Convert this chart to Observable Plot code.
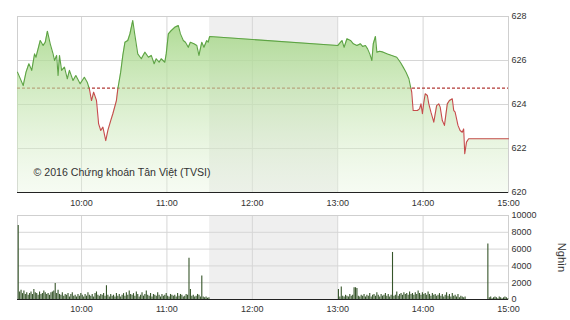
<!DOCTYPE html>
<html><head><meta charset="utf-8">
<script src="https://cdn.jsdelivr.net/npm/d3@7"></script>
<script src="https://cdn.jsdelivr.net/npm/@observablehq/plot@0.6"></script>
<style>body{margin:0;background:#fff;} #c{width:570px;height:320px;overflow:hidden;} #c svg{display:block;}</style>
</head><body><div id="c"></div><script>
// ---- data ----
const priceTimes = ["9:15","9:19","9:21","9:23","9:25","9:27","9:28","9:31","9:33","9:34:30","9:36","9:38","9:40","9:41","9:42:30","9:43:30","9:44:30","9:46","9:48","9:50","9:51:30","9:54","9:56","9:59","10:02","10:04","10:05:30","10:07","10:08:30","10:10:30","10:12","10:13:30","10:15","10:17","10:18:30","10:20:30","10:22","10:24:30","10:25:30","10:27:30","10:29","10:30:30","10:32:30","10:34","10:36","10:37:30","10:39:30","10:42","10:44:30","10:47","10:49","10:51","10:52:30","10:54:30","10:56","10:58:30","10:59:30","11:01","11:03","11:05:30","11:08","11:09:30","11:11:30","11:13","11:15","11:16:30","11:19","11:21","11:22:30","11:24:30","11:26","11:28","11:29","11:30","13:00","13:03","13:04:30","13:06:30","13:09","13:11","13:13:30","13:16","13:17:30","13:19:30","13:21","13:22:30","13:24","13:25","13:26:30","13:27:30","13:29:30","13:32","13:35","13:38","13:41:30","13:44","13:46","13:48","13:50","13:51","13:52","13:53","13:56","13:57:30","13:58:30","13:59:30","14:00:30","14:01:30","14:03","14:04","14:05:30","14:07:30","14:09:30","14:11","14:12","14:13:30","14:15","14:17","14:18:30","14:20:30","14:21:30","14:22:30","14:24:30","14:26","14:27:30","14:28:30","14:29:15","14:30:30","14:32","15:00"];
const priceValues = [625.47,624.86,625.47,625.85,625.55,626.30,626.15,626.91,626.68,626.83,627.33,626.76,626.30,626.00,626.23,625.32,626.23,625.55,625.70,625.17,625.55,625.09,625.32,624.94,625.24,625.01,624.71,624.18,624.56,624.18,623.12,622.82,622.97,622.36,622.82,623.27,623.58,624.18,624.71,625.47,626.23,626.83,626.91,627.21,627.82,627.14,626.30,626.08,626.38,626.15,626.23,625.85,626.08,625.92,626.08,625.92,626.30,627.21,627.36,627.51,627.59,627.21,626.91,626.83,626.60,626.83,626.76,626.68,626.23,626.83,626.60,626.91,626.83,627.09,626.68,626.91,626.60,626.99,626.91,626.76,626.68,626.76,626.64,626.68,626.53,626.30,626.00,626.76,627.09,626.38,626.42,626.38,626.30,626.23,626.15,625.92,625.70,625.47,625.17,624.86,624.56,623.73,623.73,623.80,624.03,623.58,624.10,624.49,624.41,624.03,623.65,623.20,623.95,624.03,623.88,623.27,623.05,624.03,624.18,624.26,623.73,623.65,623.05,622.82,622.74,622.89,621.76,622.29,622.44,622.44];
const referencePrice = 624.74;
const morningStart = "9:15";
const volMorning = [8800,900,1100,700,1000,600,800,500,700,900,
  600,1200,800,700,500,900,600,700,1000,800,
  600,700,500,800,900,1000,1900,700,1100,600,
  500,800,400,600,500,700,300,600,800,400,
  500,300,600,400,700,500,300,600,400,800,
  500,400,600,300,700,900,500,400,600,500,
  700,400,1650,500,300,600,400,500,300,700,
  400,600,300,500,700,400,800,500,1000,600,
  500,700,400,900,600,300,500,800,400,600,
  1000,500,400,700,300,600,500,400,800,500,
  300,600,400,500,700,400,300,600,500,400,
  500,300,700,400,600,500,300,400,600,500,
  4900,1200,400,500,300,400,600,500,300,2800,
  300,200,300,150,200];
const afternoonStart = "13:00";
const volAfternoon = [1200,300,1500,400,300,500,400,300,600,400,
  500,1400,1400,1300,400,300,500,400,600,300,
  500,400,700,300,500,600,400,800,500,300,
  600,400,500,700,400,600,300,500,5600,400,
  500,900,400,600,700,500,800,600,700,500,
  900,600,700,500,800,600,1000,700,500,800,
  600,700,500,900,600,400,700,500,600,400,
  500,700,400,600,300,500,800,400,600,300,
  700,400,500,300,600,200,400,300,200,300,
  0,0,0,0,0,0,0,0,0,0,
  0,0,0,0,0,6600,200,300,100,200,
  300,200,100,300,200,100,200,300,200,100];
const lunchBreak = ["11:30","13:00"];
const sessionDomain = ["9:15","15:00"];
const hourTicks = ["10:00","11:00","12:00","13:00","14:00","15:00"];
const priceTicks = [620,622,624,626,628];
const volTicks = [0,2000,4000,6000,8000,10000];
const copyright = "© 2016 Chứng khoán Tân Việt (TVSI)";
const unitLabel = "Nghìn";

// ---- helpers ----
function T(s){const [h,m,sec=0]=s.split(":").map(Number);return new Date(Date.UTC(2016,0,4,h,m,sec));}
const MIN = 60000;
const pts = priceTimes.map((t,i)=>({t:T(t), v:priceValues[i]}));
const segs = []; let seg = 0;
pts.forEach((p,i)=>{
  if(i>0){const q=pts[i-1];const a=q.v>=referencePrice,b=p.v>=referencePrice;
    if(a!==b){const f=(referencePrice-q.v)/(p.v-q.v);const tc=new Date(+q.t+f*(p.t-q.t));
      segs.push({t:tc,v:referencePrice,s:seg,up:a});seg++;segs.push({t:tc,v:referencePrice,s:seg,up:b});}}
  segs.push({t:p.t,v:p.v,s:seg,up:p.v>=referencePrice});
});
const vols = [
  ...volMorning.map((v,i)=>({t:new Date(+T(morningStart)+i*MIN+MIN/2), v})),
  ...volAfternoon.map((v,i)=>({t:new Date(+T(afternoonStart)+i*MIN+MIN/2), v}))
];
const band = [{a:T(lunchBreak[0]), b:T(lunchBreak[1])}];
const hours = hourTicks.map(T);
const fmt = d3.utcFormat("%H:%M");
const style = {fontFamily:"'Liberation Sans', Arial, sans-serif", fontSize:"9px", color:"#333", background:"#fff", overflow:"visible"};
const grid = "#d6d6d6";

const topChart = Plot.plot({
  width:570, height:210, marginLeft:17, marginRight:62, marginTop:16, marginBottom:18,
  style,
  x:{type:"utc", domain:sessionDomain.map(T), label:null},
  y:{domain:[620,628], label:null},
  marks:[
    Plot.rect(band,{x1:"a",x2:"b",y1:620,y2:628,fill:"#efefef"}),
    Plot.gridY([622,624,626],{stroke:grid,strokeOpacity:1}),
    Plot.gridX(hours,{stroke:grid,strokeOpacity:1}),
    Plot.frame({stroke:"#cfcfcf"}),
    Plot.ruleY([referencePrice],{stroke:"#b23a36",strokeDasharray:"3,2",strokeWidth:1.3}),
    Plot.areaY(pts,{x:"t",y1:620,y2:"v",fill:"url(#pgrad)"}),
    Plot.line(segs,{x:"t",y:"v",z:"s",stroke:d=>d.up?"#5da344":"#c64c4c",strokeWidth:1.1}),
    Plot.ruleY([620],{stroke:"#222"}),
    Plot.axisY({anchor:"right",ticks:priceTicks,tickSize:0,tickPadding:3,label:null}),
    Plot.axisX({ticks:hours,tickFormat:fmt,tickSize:0,tickPadding:7,label:null}),
    Plot.text([copyright],{frameAnchor:"bottom-left",dx:16,dy:-17,fontSize:10.6,fill:"#333",textAnchor:"start"})
  ]
});
d3.select(topChart).insert("defs",":first-child").html('<linearGradient id="pgrad" x1="0" y1="0" x2="0" y2="1"><stop offset="0" stop-color="#9fd47f" stop-opacity="0.85"/><stop offset="1" stop-color="#e6f4dc" stop-opacity="0.35"/></linearGradient>');

const botChart = Plot.plot({
  width:570, height:110, marginLeft:17, marginRight:62, marginTop:5, marginBottom:21,
  style,
  x:{type:"utc", domain:sessionDomain.map(T), label:null},
  y:{domain:[0,10000], label:null},
  marks:[
    Plot.rect(band,{x1:"a",x2:"b",y1:0,y2:10000,fill:"#efefef"}),
    Plot.gridY([2000,4000,6000,8000],{stroke:grid,strokeOpacity:1}),
    Plot.gridX(hours,{stroke:grid,strokeOpacity:1}),
    Plot.frame({stroke:"#cfcfcf"}),
    Plot.ruleX(vols,{x:"t",y1:0,y2:"v",stroke:"#36552a",strokeWidth:1.1}),
    Plot.ruleY([0],{stroke:"#222"}),
    Plot.axisY({anchor:"right",ticks:volTicks,tickFormat:d3.format("d"),tickSize:0,tickPadding:3,label:null}),
    Plot.axisX({ticks:hours,tickFormat:fmt,tickSize:0,tickPadding:6,label:null}),
    Plot.text([unitLabel],{frameAnchor:"right",dx:53,rotate:90,fontSize:11,fill:"#333",textAnchor:"middle"})
  ]
});
const c = document.getElementById("c");
c.appendChild(topChart);
c.appendChild(botChart);
</script></body></html>
